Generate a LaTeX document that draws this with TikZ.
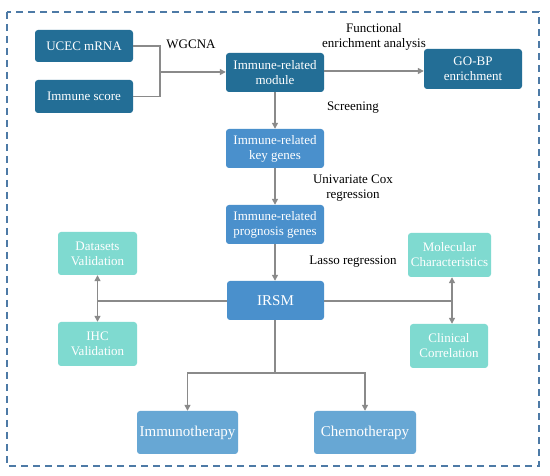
\documentclass[tikz,border=0pt]{standalone}
\usepackage{fontspec}
\setmainfont{Liberation Serif}
\usetikzlibrary{arrows.meta}
\definecolor{dblue}{HTML}{236E96}
\definecolor{mblue}{HTML}{4A90CC}
\definecolor{teal}{HTML}{7FDAD0}
\definecolor{lblue}{HTML}{67A7D4}
\definecolor{frame}{HTML}{4D7AA6}
\definecolor{conn}{HTML}{8A8A8A}
\tikzset{
  box/.style={rounded corners=3pt, text=white, align=center, inner sep=1pt, font=\fontsize{13}{15}\selectfont},
  darkbox/.style={box, fill=dblue},
  midbox/.style={box, fill=mblue},
  tealbox/.style={box, fill=teal},
  lightbox/.style={box, fill=lblue},
  lbl/.style={align=center, font=\fontsize{13}{15}\selectfont, text=black},
  conline/.style={draw=conn, line width=1.3pt},
  arr/.style={conline, -{Triangle[length=6pt,width=6pt]}},
  darr/.style={conline, {Triangle[length=6pt,width=6pt]}-{Triangle[length=6pt,width=6pt]}}
}
\begin{document}
\begin{tikzpicture}[x=1pt,y=-1pt]
\useasboundingbox (0,0) rectangle (550,476);
\fill[white] (0,0) rectangle (550,476);
\draw[frame, line width=1.4pt, dash pattern=on 7pt off 5pt] (7,12) rectangle (539,466);

\node[darkbox, minimum width=98pt, minimum height=32pt] (ucec) at (84,46) {UCEC mRNA};
\node[darkbox, minimum width=98pt, minimum height=33pt] (score) at (84,96.5) {Immune score};
\node[darkbox, minimum width=98pt, minimum height=39pt] (module) at (275,72.5) {Immune-related\\module};
\node[darkbox, minimum width=98pt, minimum height=40pt] (gobp) at (473,69) {GO-BP\\enrichment};
\node[midbox, minimum width=98pt, minimum height=39pt] (key) at (275,148.5) {Immune-related\\key genes};
\node[midbox, minimum width=98pt, minimum height=39pt] (prog) at (275,224.5) {Immune-related\\prognosis genes};
\node[midbox, minimum width=97pt, minimum height=39pt, font=\fontsize{15}{18}\selectfont] (irsm) at (275.5,300.5) {IRSM};
\node[tealbox, minimum width=79pt, minimum height=43pt] (data) at (97.5,253.5) {Datasets\\Validation};
\node[tealbox, minimum width=79pt, minimum height=44pt] (ihc) at (97.5,344) {IHC\\Validation};
\node[tealbox, minimum width=83pt, minimum height=44pt] (mol) at (449.5,255) {Molecular\\Characteristics};
\node[tealbox, minimum width=78pt, minimum height=44pt] (clin) at (449,346) {Clinical\\Correlation};
\node[lightbox, minimum width=101pt, minimum height=43pt, font=\fontsize{15}{18}\selectfont] (immuno) at (187.5,432.5) {Immunotherapy};
\node[lightbox, minimum width=102pt, minimum height=43pt, font=\fontsize{15}{18}\selectfont] (chemo) at (365,432.5) {Chemotherapy};

\node[lbl] (l1) at (191,44) {WGCNA};
\node[lbl] (l2) at (374,36.5) {Functional\\enrichment analysis};
\node[lbl] (l3) at (353,108) {Screening};
\node[lbl] (l4) at (353,188.5) {Univariate Cox\\regression};
\node[lbl] (l5) at (353,262) {Lasso regression};

\coordinate (j1) at (160,72);
\draw[conline] (ucec.east) -| (j1) |- (score.east);
\draw[arr] (j1) -- (j1 -| module.west);
\draw[arr] (module.east |- 0,71) -- (gobp.west |- 0,71);
\draw[arr] (module.south) -- (key.north);
\draw[arr] (key.south) -- (prog.north);
\draw[arr] (prog.south) -- (irsm.north -| prog.south);

\coordinate (jl) at (97.5,301);
\coordinate (jr) at (452,301);
\draw[conline] (irsm.west |- jl) -- (jl);
\draw[darr] (data.south) -- (ihc.north);
\draw[conline] (irsm.east |- jr) -- (jr);
\draw[darr] (mol.south -| jr) -- (clin.north -| jr);

\coordinate (jb) at (275,373);
\draw[conline] (irsm.south -| jb) -- (jb);
\draw[arr] (jb) -| (immuno.north);
\draw[arr] (jb) -| (chemo.north);
\end{tikzpicture}
\end{document}
